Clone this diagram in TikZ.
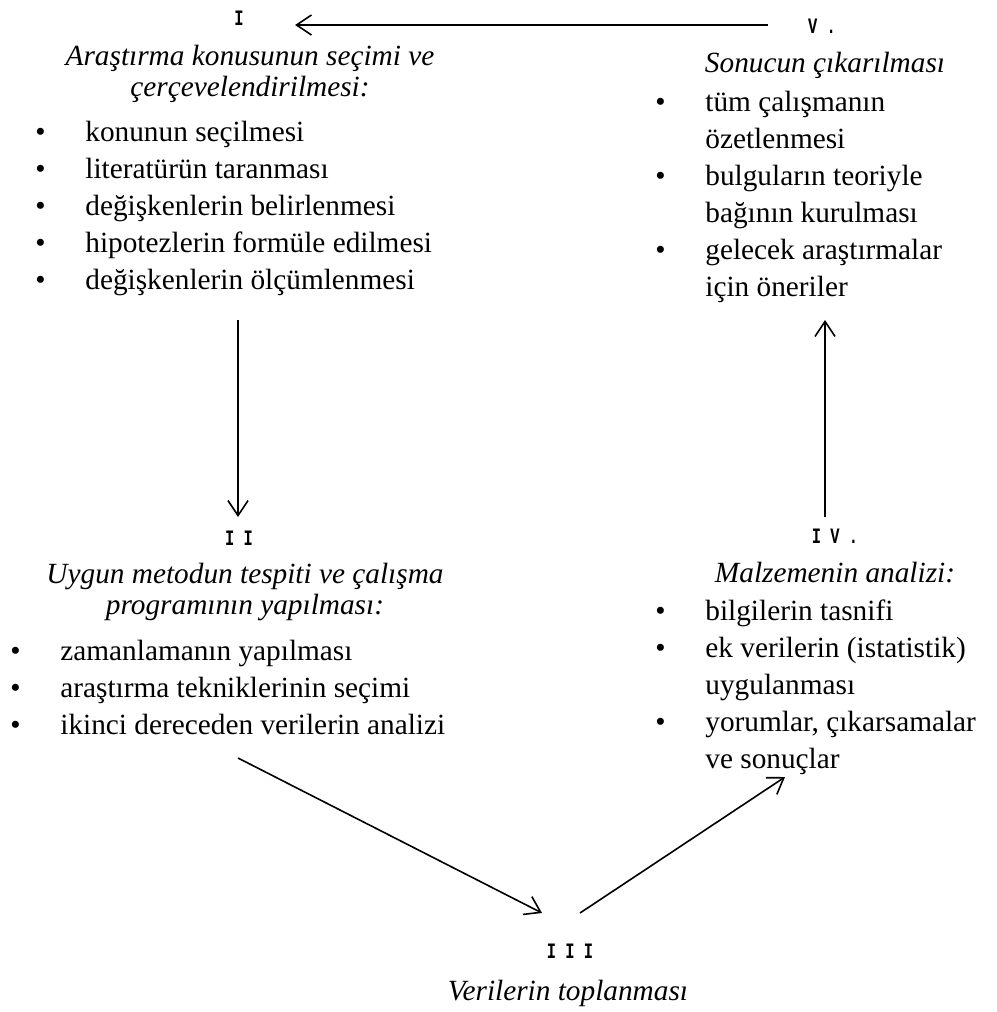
\documentclass[tikz,border=0pt]{standalone}
\usepackage{fontspec}
\usepackage{graphicx}
\setmainfont{Liberation Serif}
\newfontfamily\numfont{Liberation Mono}
\usetikzlibrary{arrows.meta}

\newcommand{\bl}{\makebox[25pt][l]{\textbullet}}
\newcommand{\nb}{\hspace*{25pt}}
\newcommand{\tp}{\rule{0pt}{12pt}}
\newcommand{\rom}[1]{\scalebox{0.7}[1]{#1}}

\begin{document}
\begin{tikzpicture}[x=0.5pt, y=-0.5pt,
    num/.style={inner sep=0, font=\numfont\bfseries\fontsize{11pt}{11pt}\selectfont},
    head/.style={inner sep=0, anchor=north, align=center, font=\fontsize{14.65pt}{15.5pt}\selectfont\itshape},
    items/.style={inner sep=0, anchor=north west, align=left, font=\fontsize{14.65pt}{18.5pt}\selectfont},
    arr/.style={-{Straight Barb[length=7.5pt,width=10pt]}, line width=0.8pt}]
    \useasboundingbox (0,0) rectangle (996,1012);

    \node at (239, 18) [num] (n1) {\rom{I}};
    \node at (250, 41) [head] (t1) {\tp Araştırma konusunun seçimi ve\\ çerçevelendirilmesi:};
    \node at (35, 117) [items] (l1) {\tp\bl konunun seçilmesi\\ \bl literatürün taranması\\ \bl değişkenlerin belirlenmesi\\ \bl hipotezlerin formüle edilmesi\\ \bl değişkenlerin ölçümlenmesi};

    \node at (239, 538) [num] (n2) {\rom{I I}};
    \node at (245, 559) [head] (t2) {\tp Uygun metodun tespiti ve çalışma\\ programının yapılması:};
    \node at (10, 636) [items] (l2) {\tp\bl zamanlamanın yapılması\\ \bl araştırma tekniklerinin seçimi\\ \bl ikinci dereceden verilerin analizi};

    \node at (570, 951) [num] (n3) {\rom{I I I}};
    \node at (568, 976) [head] (t3) {\tp Verilerin toplanması};

    \node at (835, 536) [num] (n4) {\rom{I V .}};
    \node at (835, 558) [head] (t4) {\tp Malzemenin analizi:};
    \node at (655, 596) [items] (l4) {\tp\bl bilgilerin tasnifi\\ \bl ek verilerin (istatistik)\\ \nb uygulanması\\ \bl yorumlar, çıkarsamalar\\ \nb ve sonuçlar};

    \node at (822, 26) [num] (n5) {\rom{V .}};
    \node at (825, 48) [head] (t5) {\tp Sonucun çıkarılması};
    \node at (655, 87) [items] (l5) {\tp\bl tüm çalışmanın\\ \nb özetlenmesi\\ \bl bulguların teoriyle\\ \nb bağının kurulması\\ \bl gelecek araştırmalar\\ \nb için öneriler};

    \coordinate (a5) at (768, 25);
    \coordinate (b1) at (295, 25);
    \coordinate (a1) at (238, 320);
    \coordinate (b2) at (238, 517);
    \coordinate (a2) at (238, 758);
    \coordinate (b3) at (542, 913);
    \coordinate (a3) at (580, 913);
    \coordinate (b4) at (785, 777);
    \coordinate (a4) at (825, 517);
    \coordinate (b5) at (825, 320);

    \draw[arr] (a5) -- (b1);
    \draw[arr] (a1) -- (b2);
    \draw[arr] (a2) -- (b3);
    \draw[arr] (a3) -- (b4);
    \draw[arr] (a4) -- (b5);
\end{tikzpicture}
\end{document}
